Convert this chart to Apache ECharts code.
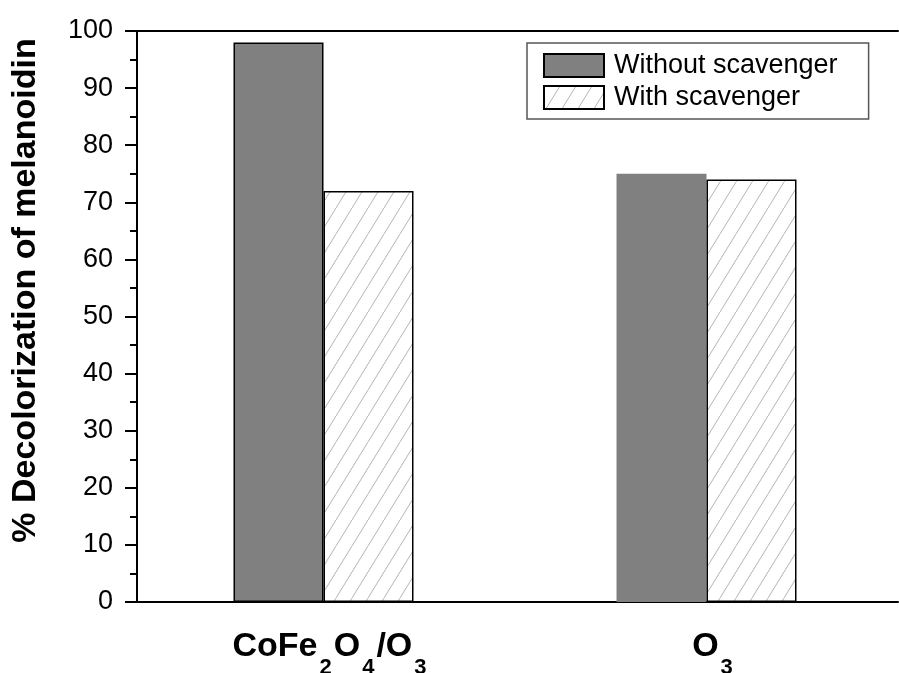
<!DOCTYPE html>
<html>
<head>
<meta charset="utf-8">
<script src="https://cdn.jsdelivr.net/npm/echarts@6/dist/echarts.min.js"></script>
<style>html,body{margin:0;padding:0;background:#fff;}#c{width:899px;height:673px;}</style>
</head>
<body>
<div id="c"></div>
<script>
const categories = ['CoFe2O4/O3', 'O3'];
const withoutScavenger = [98, 75];
const withScavenger = [72, 74];
const yTicks = [0, 10, 20, 30, 40, 50, 60, 70, 80, 90, 100];

function hatch() {
  const cv = document.createElement('canvas');
  cv.width = 16; cv.height = 26;
  const ctx = cv.getContext('2d');
  ctx.fillStyle = '#fff';
  ctx.fillRect(0, 0, 16, 26);
  ctx.strokeStyle = '#b4b4b4';
  ctx.lineWidth = 1;
  ctx.beginPath();
  ctx.moveTo(-1, 26 + 26 / 16);
  ctx.lineTo(17, -26 / 16);
  ctx.stroke();
  return cv;
}

const chart = echarts.init(document.getElementById('c'));
const font = 'Liberation Sans, Arial, sans-serif';
chart.setOption({
  animation: false,
  grid: { left: 132, right: 1, top: 31, bottom: 71, containLabel: false, outerBoundsMode: 'none' },
  legend: {
    orient: 'vertical', left: 527, top: 43,
    padding: [9, 31, 8, 16],
    borderColor: '#555', borderWidth: 1.5,
    icon: 'rect',
    itemWidth: 60, itemHeight: 23, itemGap: 5,
    textStyle: { fontFamily: font, fontSize: 27, color: '#000', lineHeight: 23, padding: [0, 0, 0, 5] },
    data: ['Without scavenger', 'With scavenger']
  },
  xAxis: [{
    type: 'category', data: categories, position: 'bottom',
    axisLine: { lineStyle: { color: '#000', width: 2 } },
    axisTick: { show: false },
    axisLabel: {
      margin: 28,
      padding: [0, 0, 0, 14],
      formatter: v => '{a|' + v.replace(/(\d)/g, '}{s|$1}{a|') + '}',
      rich: {
        a: { fontFamily: font, fontSize: 34, fontWeight: 'bold', color: '#000', lineHeight: 34 },
        s: { fontFamily: font, fontSize: 22, fontWeight: 'bold', color: '#000', lineHeight: 22, padding: [42, 2, 0, 2] }
      }
    }
  }, {
    type: 'category', data: categories, position: 'top',
    axisLine: { lineStyle: { color: '#000', width: 2 } },
    axisTick: { show: false }, axisLabel: { show: false }
  }],
  yAxis: {
    type: 'value', min: 0, max: 100, interval: 10, offset: -5,
    name: '% Decolorization of melanoidin',
    nameLocation: 'middle', nameGap: 94,
    nameTextStyle: { fontFamily: font, fontSize: 34, fontWeight: 'bold', color: '#000', padding: [0, 0, 0, 52] },
    axisLine: { show: true, lineStyle: { color: '#000', width: 2 } },
    axisTick: { show: true, length: 12, lineStyle: { color: '#000', width: 2 } },
    minorTick: { show: true, splitNumber: 2, length: 7, lineStyle: { color: '#000', width: 2 } },
    splitLine: { show: false },
    axisLabel: {
      margin: 24, fontFamily: font, fontSize: 27, color: '#000',
      formatter: v => yTicks.includes(v) ? String(v) : ''
    }
  },
  series: [{
    name: 'Without scavenger', type: 'bar', barWidth: 90, barGap: '0%',
    itemStyle: { color: '#808080', borderColor: '#000', borderWidth: 1.5 },
    data: withoutScavenger.map((v, i) => i === 1 ? { value: v, itemStyle: { borderWidth: 0 } } : v)
  }, {
    name: 'With scavenger', type: 'bar', barWidth: 90, barGap: '0%',
    itemStyle: { color: { image: hatch(), repeat: 'repeat' }, borderColor: '#000', borderWidth: 1.5 },
    data: withScavenger
  }]
});
</script>
</body>
</html>
